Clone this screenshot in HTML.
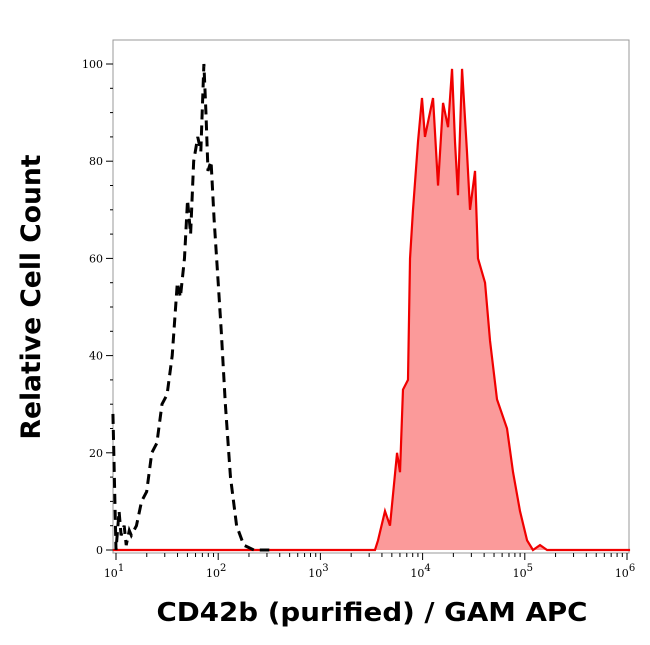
<!DOCTYPE html>
<html><head><meta charset="utf-8"><style>
html,body{margin:0;padding:0;background:#fff;width:650px;height:645px;overflow:hidden}
svg text{font-family:"DejaVu Serif","Liberation Serif",serif}
</style></head><body>
<svg id="chart" width="650" height="645" viewBox="0 0 650 645" xmlns="http://www.w3.org/2000/svg">
<rect x="113" y="40" width="516" height="513" fill="#fff" stroke="#999" stroke-width="1"/>
<g id="axes"></g>
<g id="series"></g>
<text transform="translate(40,297) rotate(-90)" text-anchor="middle" font-size="27" font-weight="bold" textLength="285" lengthAdjust="spacingAndGlyphs" style="font-family:'DejaVu Sans','Liberation Sans',sans-serif">Relative Cell Count</text>
<text x="372" y="621" text-anchor="middle" font-size="26" font-weight="bold" textLength="431" lengthAdjust="spacingAndGlyphs" style="font-family:'DejaVu Sans','Liberation Sans',sans-serif">CD42b (purified) / GAM APC</text>
</svg>
<script>
const yTicks=[0,20,40,60,80,100];
const xDecades=[1,2,3,4,5,6];
const ctrlX=[0.97,1.0,1.03,1.05,1.08,1.1,1.13,1.15,1.2,1.25,1.3,1.35,1.4,1.45,1.5,1.55,1.6,1.63,1.67,1.7,1.73,1.76,1.8,1.83,1.86,1.88,1.9,1.93,1.96,2.0,2.03,2.07,2.12,2.18,2.25,2.35,2.5];
const ctrlY=[28,0,8,3,5,1,4,3,5,10,12,20,22,30,32,40,55,52,60,72,65,80,85,82,100,90,78,80,68,55,45,30,15,5,1,0,0];
const stainX=[0.97,3.534,3.564,3.632,3.681,3.750,3.779,3.808,3.857,3.877,3.906,3.955,3.994,4.023,4.072,4.102,4.151,4.200,4.249,4.288,4.317,4.346,4.386,4.434,4.464,4.513,4.542,4.611,4.660,4.728,4.826,4.885,4.953,5.022,5.080,5.149,5.218,6.03];
const stainY=[0,0,2,8,5,20,16,33,35,60,70,84,93,85,90,93,75,92,87,99,84,73,99,82,70,78,60,55,43,31,25,16,8,2,0,1,0,0];
const X=v=>116+(v-1)*102.2;
const Y=v=>550-v*4.86;
const NS="http://www.w3.org/2000/svg";
const ax=document.getElementById('axes'), se=document.getElementById('series');
function mk(tag,at,par){const e=document.createElementNS(NS,tag);for(const k in at)e.setAttribute(k,at[k]);par.appendChild(e);return e;}
yTicks.forEach(t=>{
  const l=mk('line',{x1:106,x2:113,y1:Y(t),y2:Y(t),stroke:'#000'},ax);
  
  
  const tx=mk('text',{x:103,y:Y(t)+4,'text-anchor':'end','font-size':11},ax);
  tx.textContent=t;
  
  
});
for(let t=0;t<=100;t+=5){if(t%20)mk('line',{x1:110,x2:113,y1:Y(t),y2:Y(t),stroke:'#000'},ax);}
xDecades.forEach(d=>{
  const l=mk('line',{x1:X(d),x2:X(d),y1:553,y2:560,stroke:'#000'},ax);
  
  
  const tx=mk('text',{x:X(d)-2,y:577,'text-anchor':'middle','font-size':11},ax);
  tx.innerHTML='10<tspan dy="-6" font-size="10">'+d+'</tspan>';
  
  
  if(d<6)for(let m=2;m<10;m++){const xv=X(d+Math.log10(m));mk('line',{x1:xv,x2:xv,y1:553,y2:557,stroke:'#000'},ax);}
});
const fillPts=stainX.map((x,i)=>X(x)+','+Y(stainY[i])).join(' ');
const poly=mk('polygon',{points:fillPts+' '+X(stainX[stainX.length-1])+','+Y(0)+' '+X(stainX[0])+','+Y(0),fill:'#fb9a9a',stroke:'none'},se);


const red=mk('polyline',{points:fillPts,fill:'none',stroke:'#f00000','stroke-width':2.2},se);


const blk=mk('polyline',{points:ctrlX.map((x,i)=>X(x)+','+Y(ctrlY[i])).join(' '),fill:'none',stroke:'#000','stroke-width':3,'stroke-dasharray':'10,6'},se);


</script>
</body></html>
